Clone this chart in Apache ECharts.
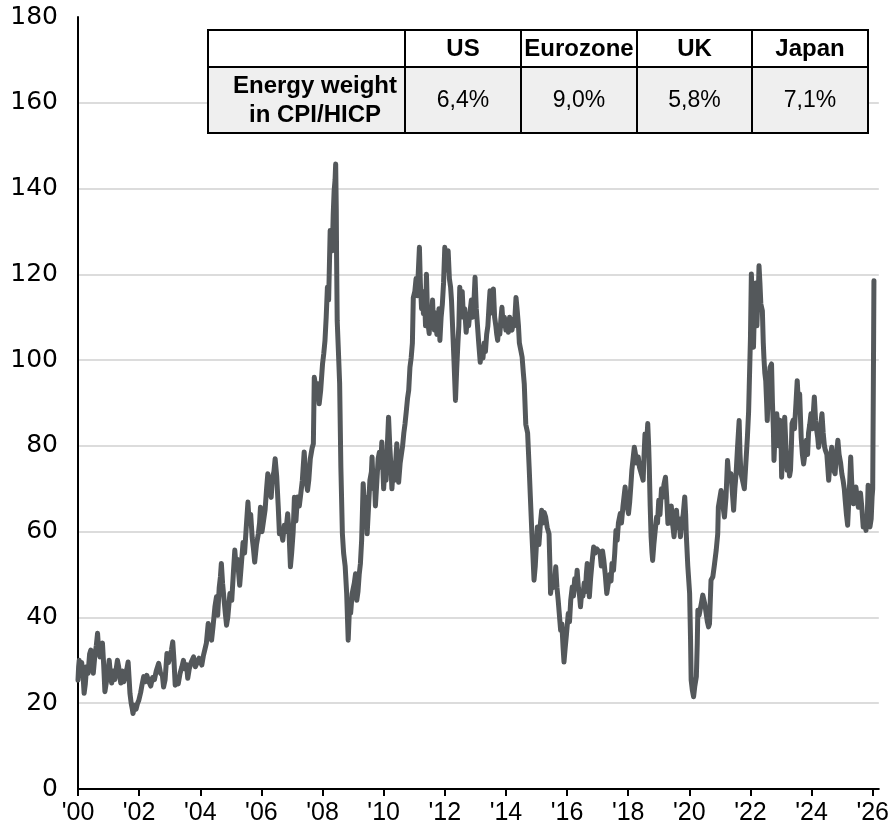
<!DOCTYPE html>
<html>
<head>
<meta charset="utf-8">
<script src="https://cdn.jsdelivr.net/npm/echarts@6/dist/echarts.min.js"></script>
<style>
  html, body { margin: 0; padding: 0; background: #ffffff; }
  #chart { width: 892px; height: 833px; }
</style>
</head>
<body>
<div id="chart"></div>
<script>
// Brent crude, USD per barrel: [decimal year, price]
const brent2000to2004 = [
  [2000.00,25.4],[2000.02,28.5],[2000.04,30.0],[2000.08,26.5],[2000.12,29.5],[2000.16,27.0],
  [2000.20,22.3],[2000.24,24.5],[2000.28,28.5],[2000.33,27.0],[2000.38,31.5],[2000.42,32.4],
  [2000.46,29.0],[2000.50,27.0],[2000.55,31.0],[2000.60,33.5],[2000.64,36.3],[2000.68,32.0],
  [2000.72,30.8],[2000.76,33.0],[2000.80,34.0],[2000.84,29.0],[2000.88,22.7],[2000.93,25.0],
  [2000.97,26.5],[2001.02,30.0],[2001.06,27.0],[2001.10,24.7],[2001.15,27.5],[2001.20,25.5],
  [2001.25,28.0],[2001.29,30.0],[2001.33,28.5],[2001.37,26.0],[2001.40,24.7],[2001.45,27.5],
  [2001.50,25.0],[2001.55,26.5],[2001.60,28.0],[2001.64,29.6],[2001.67,26.0],[2001.70,22.3],
  [2001.74,20.0],[2001.78,18.5],[2001.80,17.6],[2001.85,19.5],[2001.90,18.6],[2001.95,20.0],
  [2001.99,20.7],[2002.05,22.5],[2002.10,24.5],[2002.15,26.2],[2002.20,25.0],[2002.25,26.5],
  [2002.32,25.0],[2002.38,24.0],[2002.44,26.0],[2002.50,25.5],[2002.56,27.5],[2002.64,29.3],
  [2002.70,27.0],[2002.76,26.5],[2002.80,23.8],[2002.85,25.5],[2002.91,31.6],[2002.96,29.5],
  [2003.02,31.0],[2003.06,32.5],[2003.10,34.3],[2003.14,30.0],[2003.18,24.2],[2003.22,26.0],
  [2003.28,24.5],[2003.34,27.0],[2003.40,28.5],[2003.45,30.0],[2003.50,28.0],[2003.55,29.0],
  [2003.59,25.8],[2003.64,28.0],[2003.70,29.5],[2003.78,30.8],[2003.84,28.5],[2003.90,29.5],
  [2003.96,30.5],[2004.05,28.9],[2004.10,31.0],[2004.15,32.5],[2004.20,34.0],[2004.26,38.6],
  [2004.30,37.0],[2004.37,34.7],[2004.42,38.0],[2004.48,42.5],[2004.53,44.8],[2004.57,40.5],
  [2004.62,47.0],[2004.66,49.5],[2004.69,52.6],[2004.73,48.0],[2004.78,44.0],[2004.82,41.0],
  [2004.86,38.2],[2004.90,40.0],[2004.97,45.6]
];
const brent2005to2008 = [
  [2005.03,44.0],[2005.08,50.0],[2005.13,55.7],[2005.17,52.0],[2005.22,53.5],[2005.26,50.0],
  [2005.29,47.5],[2005.34,52.0],[2005.40,57.5],[2005.45,55.0],[2005.50,60.5],[2005.56,66.9],
  [2005.60,62.0],[2005.65,64.0],[2005.70,58.5],[2005.74,56.0],[2005.78,52.9],[2005.84,57.0],
  [2005.90,59.5],[2005.94,62.0],[2005.97,65.7],[2006.02,60.0],[2006.07,62.5],[2006.12,65.0],
  [2006.17,70.0],[2006.21,73.5],[2006.26,70.5],[2006.32,68.0],[2006.36,72.5],[2006.41,74.0],
  [2006.45,77.0],[2006.50,73.0],[2006.55,66.0],[2006.59,59.5],[2006.64,60.5],[2006.70,58.0],
  [2006.75,61.5],[2006.80,60.0],[2006.86,64.2],[2006.90,60.5],[2006.95,51.8],[2006.99,55.0],
  [2007.04,60.0],[2007.08,68.0],[2007.13,62.5],[2007.18,68.1],[2007.24,66.0],[2007.29,68.9],
  [2007.34,72.0],[2007.40,78.6],[2007.44,74.0],[2007.48,71.0],[2007.51,69.6],[2007.55,72.0],
  [2007.60,77.0],[2007.66,79.5],[2007.70,80.5],[2007.73,96.0],[2007.77,94.0],[2007.81,91.0],
  [2007.85,94.5],[2007.89,89.8],[2007.94,93.0],[2008.00,99.1],[2008.04,101.5],[2008.08,104.5],
  [2008.12,110.0],[2008.16,117.0],[2008.20,114.0],[2008.25,130.2],[2008.28,128.0],[2008.32,125.5],
  [2008.35,134.0],[2008.38,139.5],[2008.41,142.0],[2008.43,145.7],[2008.45,135.0],[2008.46,124.0],
  [2008.48,109.2],[2008.52,102.0],[2008.56,94.5],[2008.60,75.0],[2008.65,59.5],[2008.69,55.0],
  [2008.74,52.0],[2008.79,45.6],[2008.84,34.7],[2008.88,42.0],[2008.92,41.0],[2008.97,45.6]
];
const brent2009to2014 = [
  [2009.00,46.0],[2009.04,48.0],[2009.08,50.2],[2009.12,44.0],[2009.16,46.0],[2009.20,50.0],
  [2009.24,52.6],[2009.28,58.0],[2009.33,71.2],[2009.37,66.0],[2009.42,68.0],[2009.46,59.5],
  [2009.50,65.0],[2009.55,72.0],[2009.60,74.0],[2009.62,77.4],[2009.66,70.0],[2009.70,72.5],
  [2009.73,66.0],[2009.78,72.0],[2009.82,77.0],[2009.86,78.5],[2009.90,75.0],[2009.94,80.9],
  [2010.00,70.0],[2010.04,75.0],[2010.08,72.0],[2010.12,80.0],[2010.16,86.7],[2010.20,80.0],
  [2010.24,75.0],[2010.27,70.0],[2010.32,76.0],[2010.36,72.0],[2010.40,77.0],[2010.43,80.5],
  [2010.46,74.0],[2010.49,71.5],[2010.54,76.0],[2010.58,78.0],[2010.62,80.0],[2010.66,83.0],
  [2010.70,85.2],[2010.74,88.0],[2010.78,91.0],[2010.82,93.0],[2010.86,98.3],[2010.90,100.5],
  [2010.94,104.0],[2010.97,114.6],[2011.02,116.0],[2011.06,119.0],[2011.10,115.0],[2011.13,120.0],
  [2011.17,126.3],[2011.20,118.0],[2011.24,112.0],[2011.28,116.0],[2011.30,110.8],[2011.34,114.0],
  [2011.37,108.0],[2011.40,120.0],[2011.43,112.0],[2011.46,108.0],[2011.49,106.2],[2011.53,112.0],
  [2011.56,109.0],[2011.60,114.0],[2011.62,110.0],[2011.66,107.0],[2011.70,111.0],[2011.74,106.0],
  [2011.78,109.0],[2011.81,112.0],[2011.84,104.6],[2011.88,110.0],[2011.92,113.0],[2011.96,118.0],
  [2012.00,126.3],[2012.04,121.0],[2012.08,122.0],[2012.11,125.5],[2012.15,119.0],[2012.19,117.0],
  [2012.22,113.9],[2012.26,107.0],[2012.30,100.0],[2012.35,90.6],[2012.39,98.0],[2012.43,104.0],
  [2012.46,108.0],[2012.49,117.0],[2012.53,110.0],[2012.57,116.0],[2012.61,110.0],[2012.65,112.0],
  [2012.70,106.5],[2012.74,110.0],[2012.78,108.0],[2012.82,111.0],[2012.87,114.0],[2012.91,110.0],
  [2012.95,113.0],[2012.99,119.3],[2013.03,112.0],[2013.07,108.0],[2013.11,104.0],[2013.16,99.5],
  [2013.20,103.0],[2013.25,100.5],[2013.29,104.0],[2013.33,102.0],[2013.37,106.0],[2013.41,108.0],
  [2013.45,113.0],[2013.48,116.2],[2013.52,111.0],[2013.56,113.0],[2013.59,116.6],[2013.63,110.0],
  [2013.67,108.0],[2013.70,106.0],[2013.73,104.6],[2013.77,108.0],[2013.80,106.0],[2013.84,110.0],
  [2013.87,112.3],[2013.91,108.0],[2013.95,110.0],[2014.00,107.0],[2014.04,109.0],[2014.08,106.5],
  [2014.12,110.0],[2014.16,108.0],[2014.20,107.0],[2014.24,109.5],[2014.28,108.0],[2014.33,114.6],
  [2014.37,111.5],[2014.41,108.0],[2014.44,104.0],[2014.49,102.2],[2014.53,100.7],[2014.57,97.0],
  [2014.60,94.5],[2014.65,85.0],[2014.71,83.0],[2014.76,75.0],[2014.80,68.0],[2014.85,59.5],
  [2014.88,55.0],[2014.92,48.7],[2014.96,52.0]
];
const brent2015to2020 = [
  [2015.03,61.1],[2015.08,57.0],[2015.13,62.0],[2015.17,65.0],[2015.21,62.0],[2015.25,64.5],
  [2015.30,63.4],[2015.35,61.0],[2015.41,59.5],[2015.44,52.0],[2015.46,45.6],[2015.50,48.0],
  [2015.55,47.0],[2015.60,49.0],[2015.63,51.8],[2015.67,47.0],[2015.71,44.0],[2015.75,40.5],
  [2015.79,37.0],[2015.83,38.5],[2015.87,33.0],[2015.90,29.6],[2015.94,33.0],[2015.98,36.0],
  [2016.04,40.9],[2016.08,39.0],[2016.12,44.0],[2016.17,47.1],[2016.21,45.0],[2016.25,49.0],
  [2016.29,47.0],[2016.33,51.0],[2016.37,47.0],[2016.41,45.0],[2016.44,42.5],[2016.48,46.0],
  [2016.52,45.0],[2016.56,48.0],[2016.60,46.0],[2016.63,50.0],[2016.66,52.6],[2016.70,48.0],
  [2016.73,44.8],[2016.77,49.0],[2016.82,53.0],[2016.87,56.4],[2016.92,55.0],[2016.97,56.0],
  [2017.03,56.4],[2017.08,55.0],[2017.12,52.0],[2017.16,55.5],[2017.20,53.5],[2017.25,50.0],
  [2017.30,45.6],[2017.35,48.0],[2017.40,50.0],[2017.44,48.5],[2017.47,52.6],[2017.52,51.0],
  [2017.56,55.0],[2017.60,60.3],[2017.64,58.0],[2017.68,62.0],[2017.74,64.2],[2017.78,62.0],
  [2017.83,66.0],[2017.90,70.4],[2017.94,67.0],[2018.01,64.2],[2018.05,67.0],[2018.09,71.0],
  [2018.12,74.3],[2018.16,77.0],[2018.20,79.7],[2018.24,78.0],[2018.28,76.0],[2018.33,77.4],
  [2018.37,75.0],[2018.41,74.0],[2018.45,73.0],[2018.49,72.0],[2018.52,78.0],[2018.55,82.8],
  [2018.60,80.0],[2018.64,85.2],[2018.67,80.0],[2018.69,75.1],[2018.72,66.0],[2018.75,58.8],
  [2018.78,55.0],[2018.80,53.3],[2018.84,57.0],[2018.88,60.0],[2018.93,63.4],[2018.96,62.0],
  [2019.00,67.3],[2019.04,64.0],[2019.09,70.0],[2019.13,68.0],[2019.17,71.0],[2019.22,72.7],
  [2019.26,68.0],[2019.30,61.9],[2019.34,64.0],[2019.38,62.0],[2019.41,66.0],[2019.45,62.0],
  [2019.50,58.8],[2019.54,62.0],[2019.58,65.0],[2019.62,61.0],[2019.66,63.0],[2019.71,58.8],
  [2019.75,62.0],[2019.80,64.0],[2019.85,68.1],[2019.88,64.0],[2019.90,59.5],[2019.95,52.0],
  [2020.01,45.6],[2020.04,35.0],[2020.06,25.4],[2020.10,23.0],[2020.14,21.5],[2020.18,24.0],
  [2020.23,26.2],[2020.26,34.0],[2020.28,41.7],[2020.32,40.5],[2020.36,42.0],[2020.40,43.5],
  [2020.44,45.2],[2020.47,44.8],[2020.51,43.0],[2020.55,41.0],[2020.59,39.0],[2020.63,37.8],
  [2020.66,38.5],[2020.71,48.7],[2020.77,49.5],[2020.82,52.2],[2020.88,55.7],[2020.93,59.5],
  [2020.95,65.7]
];
const brent2021to2026 = [
  [2021.04,69.6],[2021.10,66.0],[2021.15,63.4],[2021.20,68.0],[2021.25,76.6],[2021.30,72.0],
  [2021.36,73.5],[2021.40,70.0],[2021.45,65.0],[2021.49,70.0],[2021.53,73.5],[2021.58,80.0],
  [2021.63,85.9],[2021.66,78.0],[2021.69,73.5],[2021.74,72.0],[2021.80,70.0],[2021.85,76.0],
  [2021.90,82.0],[2021.94,88.0],[2021.96,93.7],[2022.00,105.0],[2022.03,120.1],[2022.07,112.0],
  [2022.10,103.0],[2022.14,115.0],[2022.18,118.0],[2022.21,108.0],[2022.23,112.0],[2022.26,116.0],
  [2022.28,122.0],[2022.31,118.0],[2022.34,113.1],[2022.39,111.5],[2022.42,104.0],[2022.44,100.7],
  [2022.47,97.0],[2022.50,95.2],[2022.53,90.0],[2022.55,85.9],[2022.58,92.0],[2022.62,96.0],
  [2022.64,98.3],[2022.69,99.1],[2022.72,90.0],[2022.75,84.0],[2022.77,76.6],[2022.80,82.0],
  [2022.83,80.0],[2022.86,87.5],[2022.90,84.0],[2022.93,80.0],[2022.96,86.0],[2023.00,82.0],
  [2023.02,72.7],[2023.06,80.0],[2023.09,84.0],[2023.12,86.7],[2023.16,80.0],[2023.20,74.3],
  [2023.24,76.0],[2023.28,73.0],[2023.31,74.3],[2023.34,80.0],[2023.36,85.2],[2023.40,86.0],
  [2023.44,84.0],[2023.49,90.0],[2023.53,95.2],[2023.57,90.0],[2023.61,92.1],[2023.64,86.0],
  [2023.66,82.0],[2023.70,78.0],[2023.74,75.8],[2023.78,78.0],[2023.83,81.3],[2023.87,78.0],
  [2023.90,83.0],[2023.94,85.0],[2023.98,87.5],[2024.03,84.0],[2024.06,88.0],[2024.09,91.4],
  [2024.13,86.0],[2024.16,84.0],[2024.20,82.0],[2024.23,79.7],[2024.27,82.0],[2024.30,85.0],
  [2024.34,87.5],[2024.38,83.0],[2024.42,80.0],[2024.45,79.0],[2024.50,78.0],[2024.53,75.0],
  [2024.56,72.0],[2024.60,76.0],[2024.63,78.0],[2024.66,79.7],[2024.70,76.0],[2024.74,74.0],
  [2024.77,73.5],[2024.80,77.0],[2024.83,79.0],[2024.86,81.3],[2024.90,78.0],[2024.95,76.0],
  [2024.99,73.5],[2025.03,72.0],[2025.07,70.0],[2025.10,67.3],[2025.14,64.0],[2025.18,61.5],
  [2025.21,66.0],[2025.25,72.0],[2025.28,77.4],[2025.31,72.0],[2025.34,68.0],[2025.37,66.5],
  [2025.41,68.0],[2025.45,70.4],[2025.49,68.0],[2025.53,65.7],[2025.57,67.0],[2025.60,69.0],
  [2025.64,66.0],[2025.69,61.1],[2025.73,63.0],[2025.78,60.3],[2025.82,63.0],[2025.85,70.8],
  [2025.88,66.0],[2025.91,61.1],[2025.95,63.0],[2025.98,68.1],[2026.00,70.0],[2026.02,92.9],
  [2026.04,118.5]
];

// Axis ticks
const xTickYears = [2000, 2002, 2004, 2006, 2008, 2010, 2012, 2014, 2016, 2018, 2020, 2022, 2024, 2026];
const yMin = 0, yMax = 180, yStep = 20;

// Inset table
const tableRegions = ['US', 'Eurozone', 'UK', 'Japan'];
const tableRowLabel = ['Energy weight', 'in CPI/HICP'];
const energyWeights = ['6,4%', '9,0%', '5,8%', '7,1%'];

const brentSeries = [].concat(brent2000to2004, brent2005to2008, brent2009to2014, brent2015to2020, brent2021to2026);

const sansFont = "'Liberation Sans', Arial, Helvetica, sans-serif";
const wideFont = "'DejaVu Sans', Verdana, sans-serif";

// Table layout (pixels)
const tbl = { left: 208, top: 30, mid: 67, bottom: 133, cols: [208, 405, 521, 637, 752, 868] };
const TABLE_Z = 100;

function buildTable() {
  const els = [];
  const right = tbl.cols[tbl.cols.length - 1];
  els.push({ type: 'rect', z: TABLE_Z, shape: { x: tbl.left, y: tbl.top, width: right - tbl.left, height: tbl.mid - tbl.top }, style: { fill: '#ffffff' } });
  els.push({ type: 'rect', z: TABLE_Z, shape: { x: tbl.left, y: tbl.mid, width: right - tbl.left, height: tbl.bottom - tbl.mid }, style: { fill: '#efefef' } });
  [tbl.top, tbl.mid, tbl.bottom].forEach(function (y) {
    els.push({ type: 'line', z: TABLE_Z + 1, shape: { x1: tbl.left - 1, y1: y, x2: right + 1, y2: y }, style: { stroke: '#000', lineWidth: 2 } });
  });
  tbl.cols.forEach(function (x) {
    els.push({ type: 'line', z: TABLE_Z + 1, shape: { x1: x, y1: tbl.top, x2: x, y2: tbl.bottom }, style: { stroke: '#000', lineWidth: 2 } });
  });
  const headY = (tbl.top + tbl.mid) / 2;
  const rowY = (tbl.mid + tbl.bottom) / 2;
  tableRegions.forEach(function (name, i) {
    const cx = (tbl.cols[i + 1] + tbl.cols[i + 2]) / 2;
    els.push({ type: 'text', z: TABLE_Z + 2, style: { text: name, x: cx, y: headY + 1, align: 'center', verticalAlign: 'middle', fontFamily: sansFont, fontWeight: 'bold', fontSize: 24, fill: '#000' } });
    els.push({ type: 'text', z: TABLE_Z + 2, style: { text: energyWeights[i], x: cx, y: rowY + 1, align: 'center', verticalAlign: 'middle', fontFamily: sansFont, fontSize: 23, fill: '#000' } });
  });
  els.push({ type: 'text', z: TABLE_Z + 2, style: { text: tableRowLabel.join('\n'), x: 315, y: rowY + 1, align: 'center', verticalAlign: 'middle', lineHeight: 29, fontFamily: sansFont, fontWeight: 'bold', fontSize: 24, fill: '#000' } });
  return els;
}

const chart = echarts.init(document.getElementById('chart'), null, { renderer: 'canvas' });
chart.setOption({
  animation: false,
  backgroundColor: '#ffffff',
  grid: { left: 78, right: 6, top: 17, bottom: 44, containLabel: false },
  xAxis: {
    type: 'value',
    min: 2000,
    max: 2026.2,
    axisLine: { show: true, lineStyle: { color: '#000', width: 2 } },
    axisTick: { show: true, length: 7, lineStyle: { color: '#000', width: 2 }, customValues: xTickYears },
    axisLabel: {
      customValues: xTickYears,
      margin: 12,
      fontFamily: sansFont,
      fontSize: 25,
      color: '#000',
      formatter: function (v) { return "'" + String(Math.round(v) % 100).padStart(2, '0'); }
    },
    splitLine: { show: false }
  },
  yAxis: {
    type: 'value',
    min: yMin,
    max: yMax,
    interval: yStep,
    axisLine: { show: true, lineStyle: { color: '#000', width: 2 } },
    axisTick: { show: false },
    axisLabel: { margin: 20, fontFamily: wideFont, fontSize: 25, color: '#000' },
    splitLine: { show: true, showMaxLine: false, lineStyle: { color: '#d0d0d0', width: 1.5 } }
  },
  series: [{
    type: 'line',
    data: brentSeries,
    showSymbol: false,
    symbol: 'none',
    lineStyle: { color: '#54585b', width: 5, cap: 'round', join: 'round' },
    z: 3
  }],
  graphic: { elements: buildTable() }
});
</script>
</body>
</html>
